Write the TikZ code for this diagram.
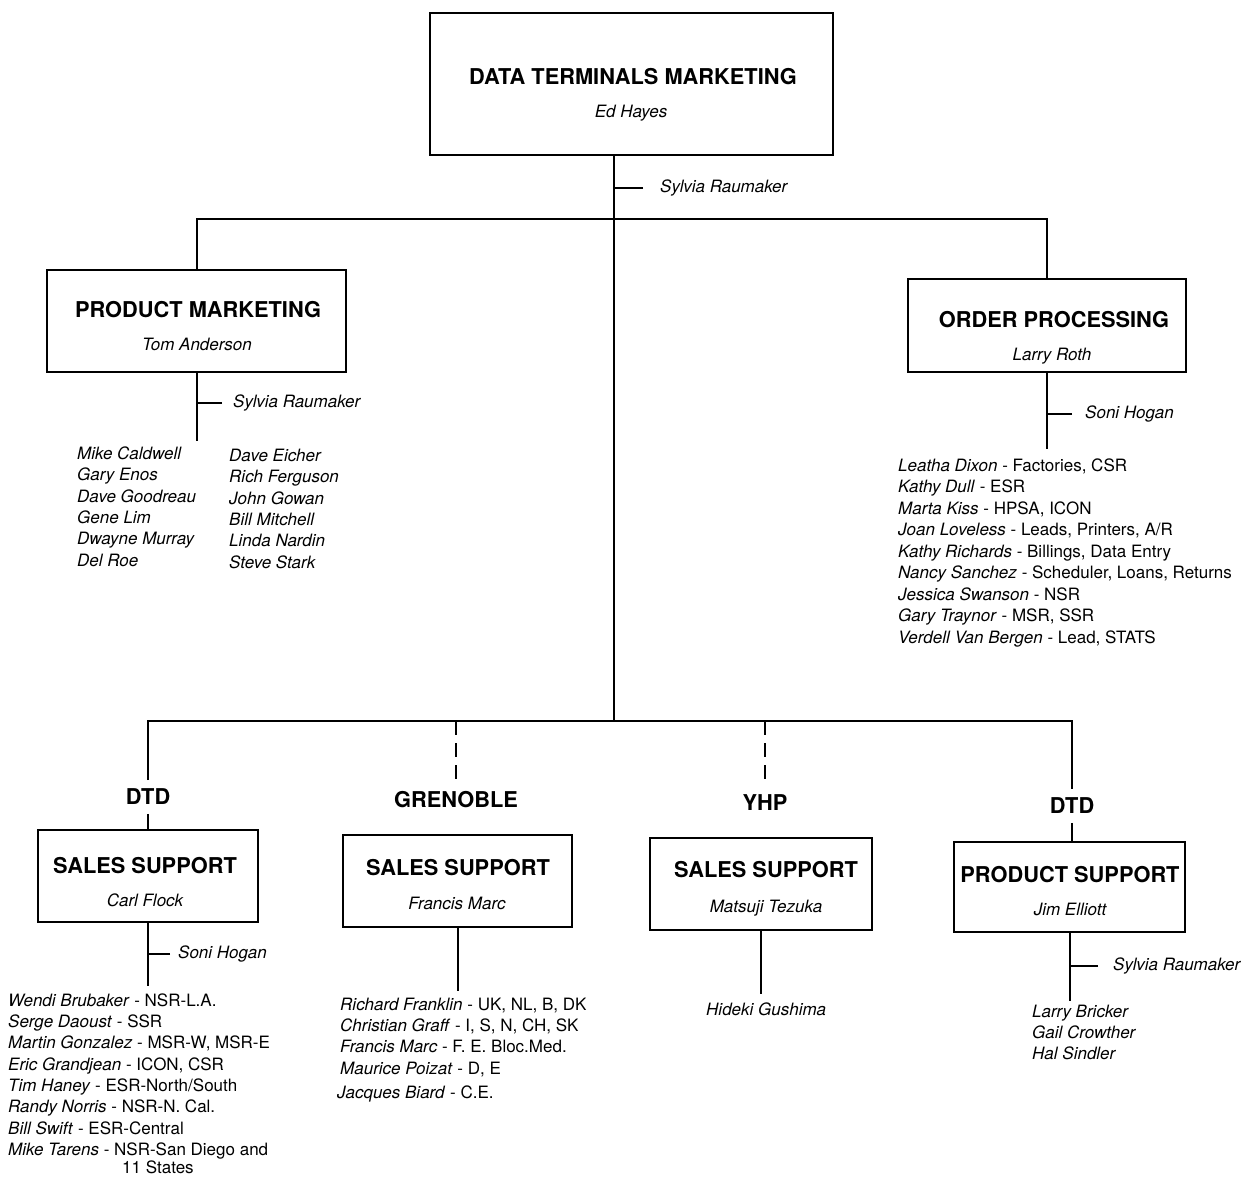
\documentclass[tikz,border=0pt]{standalone}
\usepackage{fontspec}
\setmainfont{TeX Gyre Heros}
\newcommand\myttl{\fontsize{21.8}{24}\selectfont\bfseries}
\newcommand\mynm{\fontsize{17}{20}\selectfont}
\begin{document}
\begin{tikzpicture}[x=1pt,y=-1pt,
 box/.style={draw, line width=2.8pt, inner sep=0pt},
 ttl/.style={font=\myttl, inner sep=0pt, text height=15.5pt, text depth=0pt},
 sub/.style={font=\mynm\itshape, inner sep=0pt, text height=12pt, text depth=0pt},
 conn/.style={line width=2pt},
 dashconn/.style={line width=2pt, dash pattern=on 14pt off 8pt},
 tag/.style={font=\myttl, inner ysep=9pt, inner xsep=0pt, text height=15.5pt, text depth=0pt},
 aside/.style={font=\mynm\itshape, anchor=west, inner ysep=0pt, text height=12pt, text depth=3.5pt},
 item/.style={font=\mynm, anchor=west, inner sep=0pt, text height=12pt, text depth=3.5pt},
]
\useasboundingbox (0,0) rectangle (1245,1176);

% ---------- boxes ----------
\node[box, minimum width=403pt, minimum height=142pt] (dtm) at (631.5,84) {};
\node[ttl] (dtm-t) at (633,77) {DATA TERMINALS MARKETING};
\node[sub] (dtm-n) at (631,111) {Ed Hayes};

\node[box, minimum width=299pt, minimum height=102pt] (pm) at (196.5,321) {};
\node[ttl] (pm-t) at (198,310) {PRODUCT MARKETING};
\node[sub] (pm-n) at (197,344) {Tom Anderson};

\node[box, minimum width=278pt, minimum height=93pt] (op) at (1047,325.5) {};
\node[ttl] (op-t) at (1054,320) {ORDER PROCESSING};
\node[sub] (op-n) at (1052,354) {Larry Roth};

\node[box, minimum width=220pt, minimum height=92pt] (ss1) at (148,876) {};
\node[ttl] (ss1-t) at (145,866) {SALES SUPPORT};
\node[sub] (ss1-n) at (145,900) {Carl Flock};

\node[box, minimum width=229pt, minimum height=92pt] (ss2) at (457.5,881) {};
\node[ttl] (ss2-t) at (458,868) {SALES SUPPORT};
\node[sub] (ss2-n) at (457,903) {Francis Marc};

\node[box, minimum width=222pt, minimum height=92pt] (ss3) at (761,884) {};
\node[ttl] (ss3-t) at (766,870) {SALES SUPPORT};
\node[sub] (ss3-n) at (766,906) {Matsuji Tezuka};

\node[box, minimum width=231pt, minimum height=90pt] (ps) at (1069.5,887) {};
\node[ttl] (ps-t) at (1070,875) {PRODUCT SUPPORT};
\node[sub] (ps-n) at (1070,909) {Jim Elliott};

% ---------- tags ----------
\node[tag] (dtd1) at (148,797) {DTD};
\node[tag] (gren) at (456,800) {GRENOBLE};
\node[tag] (yhp) at (765,803) {YHP};
\node[tag] (dtd2) at (1072,806) {DTD};

% ---------- main connectors ----------
\coordinate (j1) at (614,219);
\coordinate (j2) at (614,721);
\draw[conn] (dtm.south -| j1) -- (j2);
\draw[conn] (pm.north) |- (j1) -| (op.north);
\draw[conn] (dtd1.north) |- (j2) -| (dtd2.north);
\draw[conn] (dtd1.south) -- (dtd1.south |- ss1.north);
\draw[conn] (dtd2.south) -- (dtd2.south |- ps.north);
\draw[dashconn] (gren.north |- j2) -- (gren.north);
\draw[dashconn] (yhp.north |- j2) -- (yhp.north);

% ---------- side names ----------
\node[aside, inner xsep=17pt] (dtm-a) at (643,188) {Sylvia Raumaker};
\draw[conn] (dtm-a.west) -- (dtm-a.west -| j1);

\coordinate (pm-e) at ([yshift=-68pt]pm.south);
\draw[conn] (pm.south) -- (pm-e);
\node[aside, inner xsep=11pt] (pm-a) at (222,403) {Sylvia Raumaker};
\draw[conn] (pm-a.west) -- (pm-a.west -| pm.south);

\coordinate (op-e) at ([yshift=-76pt]op.south);
\draw[conn] (op.south) -- (op-e);
\node[aside, inner xsep=13pt] (op-a) at (1072,414) {Soni Hogan};
\draw[conn] (op-a.west) -- (op-a.west -| op.south);

\coordinate (ss1-e) at ([yshift=-63pt]ss1.south);
\draw[conn] (ss1.south) -- (ss1-e);
\node[aside, inner xsep=8pt] (ss1-a) at (170,954) {Soni Hogan};
\draw[conn] (ss1-a.west) -- (ss1-a.west -| ss1.south);

\coordinate (ss2-e) at ([yshift=-63pt]ss2.south);
\draw[conn] (ss2.south) -- (ss2-e);

\coordinate (ss3-e) at ([yshift=-63pt]ss3.south);
\draw[conn] (ss3.south) -- (ss3-e);

\coordinate (ps-e) at ([yshift=-68pt]ps.south);
\draw[conn] (ps.south) -- (ps-e);
\node[aside, inner xsep=15pt] (ps-a) at (1098,966) {Sylvia Raumaker};
\draw[conn] (ps-a.west) -- (ps-a.west -| ps.south);

% ---------- lists ----------
\foreach \t [count=\i from 0] in {Mike Caldwell, Gary Enos, Dave Goodreau, Gene Lim, Dwayne Murray, Del Roe}
  \node[item, font=\mynm\itshape] (pm-l\i) at (77,{455+21.4*\i}) {\t};
\foreach \t [count=\i from 0] in {Dave Eicher, Rich Ferguson, John Gowan, Bill Mitchell, Linda Nardin, Steve Stark}
  \node[item, font=\mynm\itshape] (pm-r\i) at (229,{457+21.4*\i}) {\t};

\foreach \t [count=\i from 0] in {
  {\textit{Leatha Dixon} - Factories, CSR},
  {\textit{Kathy Dull} - ESR},
  {\textit{Marta Kiss} - HPSA, ICON},
  {\textit{Joan Loveless} - Leads, Printers, A/R},
  {\textit{Kathy Richards} - Billings, Data Entry},
  {\textit{Nancy Sanchez} - Scheduler, Loans, Returns},
  {\textit{Jessica Swanson} - NSR},
  {\textit{Gary Traynor} - MSR, SSR},
  {\textit{Verdell Van Bergen} - Lead, STATS}}
  \node[item] (op-l\i) at (898,{467+21.5*\i}) {\t};

\foreach \t [count=\i from 0] in {
  {\textit{Wendi Brubaker} - NSR-L.A.},
  {\textit{Serge Daoust} - SSR},
  {\textit{Martin Gonzalez} - MSR-W, MSR-E},
  {\textit{Eric Grandjean} - ICON, CSR},
  {\textit{Tim Haney} - ESR-North/South},
  {\textit{Randy Norris} - NSR-N. Cal.},
  {\textit{Bill Swift} - ESR-Central},
  {\textit{Mike Tarens} - NSR-San Diego and}}
  \node[item] (ss1-l\i) at (8,{1002+21.3*\i}) {\t};
\node[item] (ss1-l8) at (122,1169) {11 States};

\foreach \t [count=\i from 0] in {
  {\textit{Richard Franklin} - UK, NL, B, DK},
  {\textit{Christian Graff} - I, S, N, CH, SK},
  {\textit{Francis Marc} - F. E. Bloc.Med.},
  {\textit{Maurice Poizat} - D, E}}
  \node[item] (ss2-l\i) at (340,{1006+21.3*\i}) {\t};
\node[item] (ss2-l4) at (337,1094) {\textit{Jacques Biard} - C.E.};

\node[item, font=\mynm\itshape] (ss3-l0) at (706,1011) {Hideki Gushima};

\foreach \t [count=\i from 0] in {Larry Bricker, Gail Crowther, Hal Sindler}
  \node[item, font=\mynm\itshape] (ps-l\i) at (1032,{1013+21*\i}) {\t};
\end{tikzpicture}
\end{document}
